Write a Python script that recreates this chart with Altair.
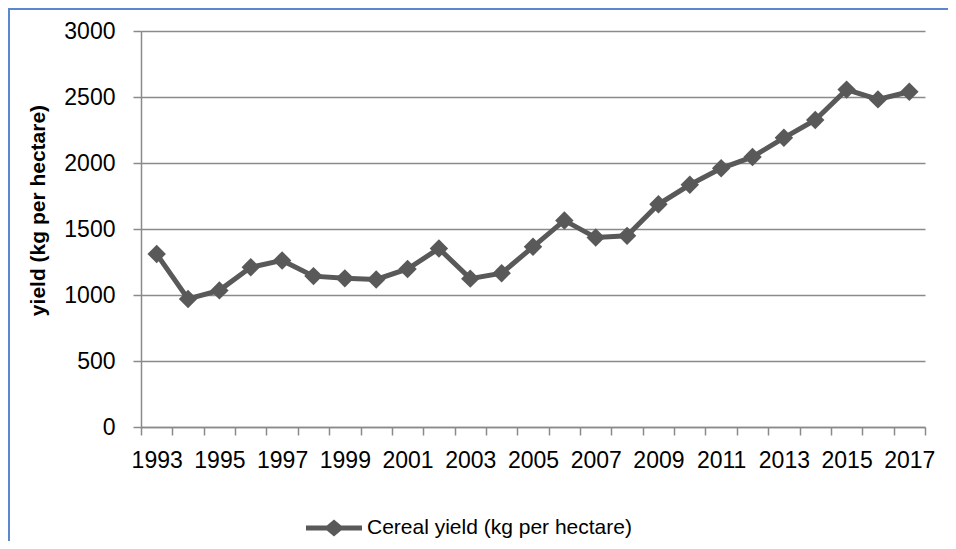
import altair as alt
import pandas as pd

years = list(range(1993, 2018))
yields = [1310, 970, 1035, 1210, 1262, 1143, 1126, 1118, 1197, 1352, 1124, 1165,
          1365, 1565, 1435, 1448, 1687, 1835, 1960, 2046, 2191, 2326, 2556, 2482, 2540]
series_name = "Cereal yield (kg per hectare)"
y_ticks = [0, 500, 1000, 1500, 2000, 2500, 3000]

LINE = "#595959"
GRID = "#8a8a8a"
FONT = "Liberation Sans"

df = pd.DataFrame({"year": years, "yield": yields, "series": series_name})

W, H = 784, 396

x_enc = alt.X(
    "year:O",
    scale=alt.Scale(type="band", paddingInner=0, paddingOuter=0),
    axis=alt.Axis(
        title=None, labelAngle=0, labelOverlap=False,
        labelExpr="datum.value % 2 == 1 ? datum.label : ''",
        tickBand="extent", tickSize=8, tickColor=GRID, tickWidth=1.5,
        domainColor=GRID, domainWidth=1.5, grid=False,
        labelFontSize=23, labelFont=FONT, labelColor="#000000", labelPadding=14,
    ),
)
y_enc = alt.Y(
    "yield:Q",
    scale=alt.Scale(domain=[0, 3000], nice=False, zero=True),
    axis=alt.Axis(
        values=y_ticks, format="d", grid=True, gridColor=GRID, gridWidth=1.5,
        domainColor=GRID, domainWidth=1.5, tickColor=GRID, tickWidth=1.5, tickSize=8,
        labelFontSize=23, labelFont=FONT, labelColor="#000000", labelPadding=18,
        title="yield (kg per hectare)", titleFontSize=21, titleFont=FONT,
        titleFontWeight="bold", titleColor="#000000", titleAngle=-90,
        titleX=-103, titleY=179, titleAlign="center", titleBaseline="middle",
    ),
)

legend_path = "M-1,-0.09H1V0.09H-1Z M-0.36,0L0,-0.3L0.36,0L0,0.3Z"

line = alt.Chart(df).mark_line(strokeWidth=5, color=LINE).encode(x=x_enc, y=y_enc)
points = alt.Chart(df).mark_point(shape="diamond", filled=True, size=340, opacity=1, strokeWidth=0).encode(
    x=x_enc, y=y_enc,
    color=alt.Color(
        "series:N", scale=alt.Scale(range=[LINE]),
        legend=alt.Legend(
            title=None, orient="none", legendX=165, legendY=469, padding=0,
            symbolType=legend_path, symbolSize=3136, symbolFillColor=LINE,
            symbolStrokeWidth=0, labelFontSize=21, labelFont=FONT, labelColor="#000000",
            labelOffset=5, labelLimit=500,
        ),
    ),
)

border_df = pd.DataFrame({"k": [0]})
border = alt.Chart(border_df).mark_rect(fill="transparent", stroke="#5B87D0", strokeWidth=2).encode(
    x=alt.value(-132), x2=alt.value(W + 60), y=alt.value(-22), y2=alt.value(H + 200)
)

chart = alt.layer(border, line, points).properties(
    width=W, height=H,
    autosize=alt.AutoSizeParams(type="none"),
    padding={"left": 133, "top": 23, "right": 23, "bottom": 114},
    background="white",
).configure_view(stroke=None)

chart.save("out.html", embed_options={"renderer": "svg", "actions": False})
